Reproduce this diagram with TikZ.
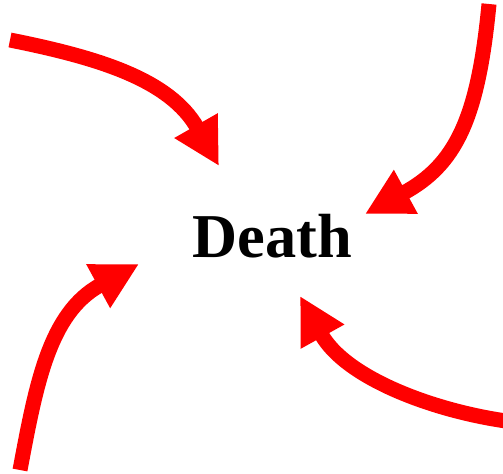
\documentclass[tikz,border=0pt]{standalone}
\usepackage{fontspec}
\setmainfont{Liberation Serif}
\usetikzlibrary{arrows.meta}
\begin{document}
\begin{tikzpicture}[x=0.02cm,y=-0.02cm,
  pointer/.style={draw=red,line width=0.3cm,-{Triangle[length=0.93cm,width=0.93cm]}}]
  \useasboundingbox (0,0) rectangle (503,473);
  % word in the middle
  \node[anchor=base,font=\bfseries\fontsize{35.5}{40}\selectfont] (death) at (272,257) {Death};
  % free ends
  \coordinate (tl) at (10,40);
  \coordinate (tlend) at (219,166);
  \coordinate (tr) at (489,4);
  \coordinate (trend) at (365,214);
  \coordinate (bl) at (20,470);
  \coordinate (blend) at (139,264);
  \coordinate (br) at (506,421);
  \coordinate (brend) at (300,296);
  % top left
  \draw[pointer] (tl) .. controls (100,58) and (170,80) .. (tlend);
  % top right
  \draw[pointer] (tr) .. controls (478,120) and (455,165) .. (trend);
  % bottom left
  \draw[pointer] (bl) .. controls (36,385) and (49,313) .. (blend);
  % bottom right
  \draw[pointer] (br) .. controls (430,410) and (345,377) .. (brend);
\end{tikzpicture}
\end{document}
